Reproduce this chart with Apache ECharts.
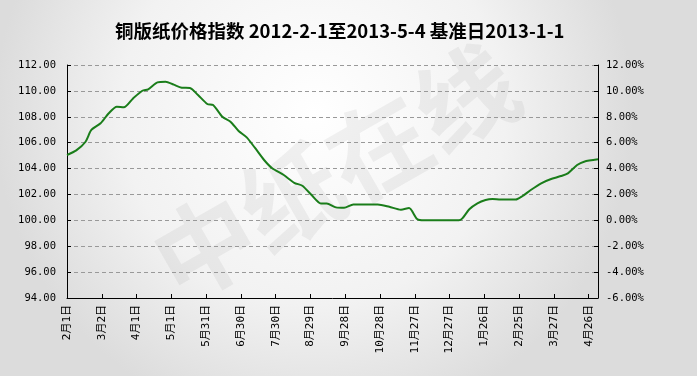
<!DOCTYPE html>
<html>
<head>
<meta charset="utf-8">
<title>铜版纸价格指数</title>
<script src="https://cdn.jsdelivr.net/npm/echarts@6/dist/echarts.min.js"></script>
<style>
  html, body { margin: 0; padding: 0; }
  #main { width: 697px; height: 376px; }
</style>
</head>
<body>
<div id="main"></div>
<script>
// x轴刻度，每30天一个（从2012-2-1开始）
const tickLabels = ['2月1日', '3月2日', '4月1日', '5月1日', '5月31日', '6月30日', '7月30日', '8月29日',
  '9月28日', '10月28日', '11月27日', '12月27日', '1月26日', '2月25日', '3月27日', '4月26日']
// 距2012-2-1的天数
const dayIndex = [0, 8, 16, 21, 29, 36, 43, 49, 57, 65, 70, 78, 85, 92, 99, 106, 113, 121, 126, 134,
  141, 148, 155, 162, 170, 177, 187, 196, 203, 211, 219, 224, 232, 239, 247, 268, 278, 288, 295, 302,
  308, 338, 341, 347, 354, 361, 367, 374, 387, 393, 400, 409, 417, 426, 432, 440, 446, 458]
// 指数值（基准日2013-1-1 = 100）
const indexValue = [105.05, 105.4, 106.07, 106.98, 107.5, 108.27, 108.78, 108.73, 109.42, 110.01, 110.12, 110.66, 110.71, 110.48, 110.25, 110.22, 109.68, 108.99, 108.91, 108.0,
  107.62, 106.9, 106.41, 105.61, 104.66, 104.02, 103.5, 102.9, 102.67, 101.95, 101.31, 101.31, 101.0, 100.97, 101.23, 101.23, 101.05, 100.82, 100.95, 100.1,
  100.0, 100.0, 100.15, 100.85, 101.31, 101.57, 101.65, 101.6, 101.6, 101.88, 102.34, 102.86, 103.17, 103.42, 103.63, 104.27, 104.53, 104.71]

const numFont = '"DejaVu Sans Mono", "Noto Sans CJK SC", monospace'
const lastDay = 458

const myChart = echarts.init(document.getElementById('main'))
const option = {
  animation: false,
  backgroundColor: {
    type: 'radial',
    x: 0.45,
    y: 0.3,
    r: 0.85,
    colorStops: [
      { offset: 0, color: '#ffffff' },
      { offset: 0.6, color: '#f2f2f2' },
      { offset: 1, color: '#dcdcdc' }
    ]
  },
  title: {
    text: '铜版纸价格指数 2012-2-1至2013-5-4 基准日2013-1-1',
    left: 110,
    top: 17,
    textStyle: {
      fontFamily: '"Noto Sans CJK SC", sans-serif',
      fontSize: 18.5,
      fontWeight: 'bold',
      color: '#000'
    }
  },
  graphic: [{
    type: 'text',
    x: 335,
    y: 172,
    rotation: 0.52,
    z: -1,
    style: {
      text: '中纸在线',
      fontSize: 100,
      fontWeight: 'bold',
      fontFamily: '"Noto Sans CJK SC", sans-serif',
      fill: 'rgba(110,110,110,0.09)',
      textAlign: 'center',
      textVerticalAlign: 'middle'
    }
  }],
  grid: {
    left: 67,
    right: 99,
    top: 65,
    bottom: 78
  },
  xAxis: {
    type: 'value',
    min: 0,
    max: lastDay,
    interval: 30,
    axisLine: { show: true, onZero: false, lineStyle: { color: '#000', width: 1 } },
    axisTick: { show: true, inside: true, length: 4, lineStyle: { color: '#000' } },
    splitLine: { show: false },
    axisLabel: {
      rotate: 90,
      margin: 7,
      showMaxLabel: false,
      color: '#000',
      fontSize: 11,
      fontFamily: numFont,
      formatter: function(v) {
        return v % 30 === 0 ? (tickLabels[v / 30] || '') : ''
      }
    }
  },
  yAxis: [{
    type: 'value',
    min: 94,
    max: 112,
    interval: 2,
    axisLine: { show: true, lineStyle: { color: '#000' } },
    axisTick: { show: true, inside: true, length: 4, lineStyle: { color: '#000' } },
    splitLine: { show: true, lineStyle: { color: '#999', type: [4, 3] } },
    axisLabel: {
      margin: 11,
      color: '#000',
      fontSize: 10.5,
      fontFamily: numFont,
      formatter: function(v) { return v.toFixed(2) }
    }
  }, {
    type: 'value',
    position: 'right',
    min: -6,
    max: 12,
    interval: 2,
    axisLine: { show: true, lineStyle: { color: '#000' } },
    axisTick: { show: true, inside: true, length: 4, lineStyle: { color: '#000' } },
    splitLine: { show: false },
    axisLabel: {
      margin: 8,
      color: '#000',
      fontSize: 10.5,
      fontFamily: numFont,
      formatter: function(v) { return v.toFixed(2) + '%' }
    }
  }],
  series: [{
    name: '铜版纸价格指数',
    type: 'line',
    yAxisIndex: 0,
    showSymbol: false,
    smooth: 0.25,
    lineStyle: { color: '#1a7d1a', width: 2 },
    data: dayIndex.map(function(d, i) { return [d, indexValue[i]] })
  }]
}
myChart.setOption(option)
</script>
</body>
</html>
